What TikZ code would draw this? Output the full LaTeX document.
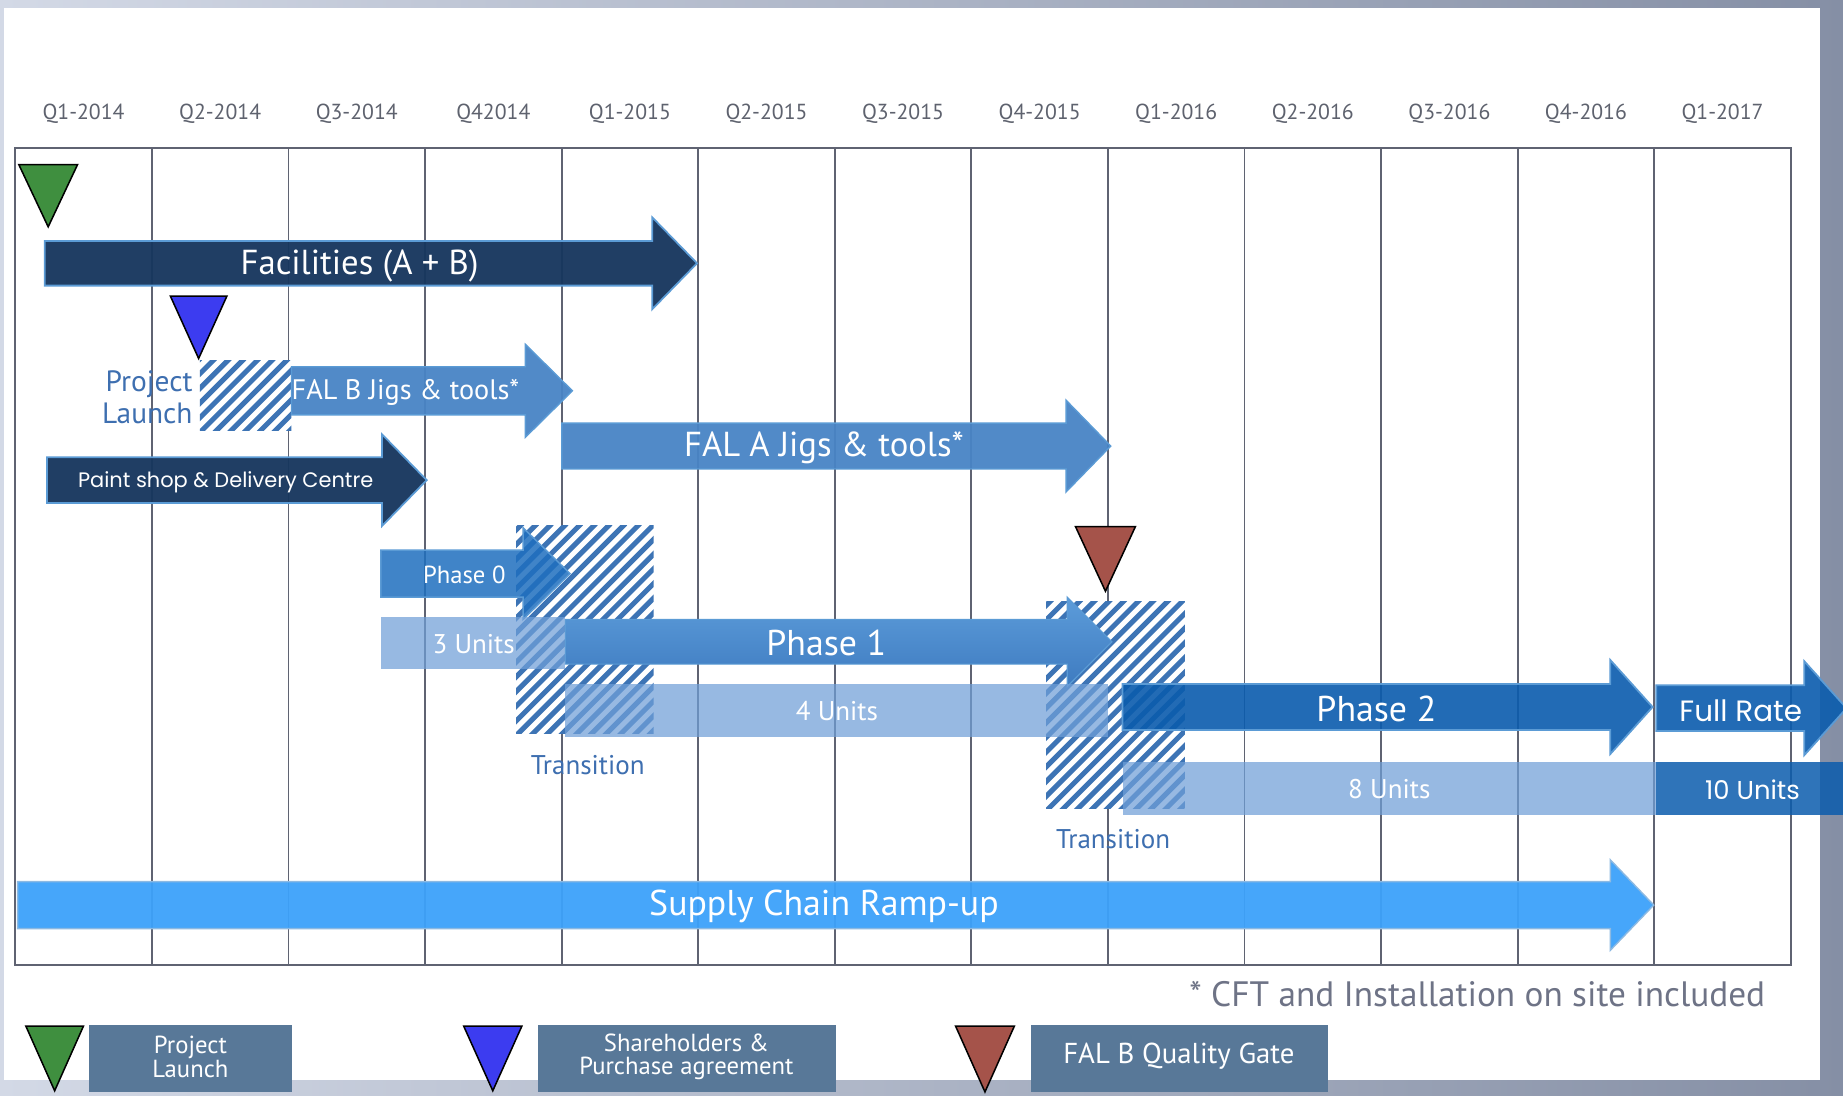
\documentclass[tikz,border=0pt]{standalone}
\usepackage{fontspec}
\setmainfont{PT Sans}
\newfontfamily\geo{Poppins}
\usetikzlibrary{calc}

\definecolor{gridc}{HTML}{5F6372}
\definecolor{qc}{HTML}{5E626E}
\definecolor{navy}{HTML}{17375E}
\definecolor{midblue}{HTML}{4884C6}
\definecolor{edgeblue}{HTML}{5B9BD5}
\definecolor{ph0}{HTML}{1F6FBF}
\definecolor{ph1top}{HTML}{5C9CDA}
\definecolor{ph1bot}{HTML}{3E7BC0}
\definecolor{ph2}{HTML}{0B5CAD}
\definecolor{supply}{HTML}{3DA2FA}
\definecolor{units}{HTML}{6F9FD8}
\definecolor{hatchc}{HTML}{3D74B5}
\definecolor{labblue}{HTML}{3E6FB0}
\definecolor{notec}{HTML}{6E7386}
\definecolor{legbox}{HTML}{587898}
\definecolor{bandL}{HTML}{D3D9E6}
\definecolor{bandR}{HTML}{858FA5}
\definecolor{mgreen}{HTML}{3F8F3F}
\definecolor{mblue}{HTML}{3C3CF0}
\definecolor{mred}{HTML}{A5534A}

% block arrow: style, tail x, head base x, tip x, centre y, half body, half head
\newcommand\blockarrow[7]{%
  \path[#1] (#2,#5-#6) -- (#3,#5-#6) -- (#3,#5-#7) -- (#4,#5)
    -- (#3,#5+#7) -- (#3,#5+#6) -- (#2,#5+#6) -- cycle;}
% striped transition box: x0, y0, x1, y1
\newcommand\stripebox[4]{%
  \begin{scope}
    \clip (#1,#2) rectangle (#3,#4);
    \fill[white] (#1,#2) rectangle (#3,#4);
    \foreach \k in {-22,...,22}
      \draw[hatchc, line width=4.3pt] ({#1+\k*12.5},#4+2) -- ({#1+\k*12.5+#4-#2+4},#2-2);
  \end{scope}}
% milestone marker: left x, top y, right x, tip y, colour
\newcommand\marker[5]{%
  \filldraw[fill=#5, draw=black, line width=1.3pt, line join=miter]
    (#1,#2) -- (#3,#2) -- ({(#1+#3)/2},#4) -- cycle;}

\tikzset{
  qlabel/.style={text=qc, font=\fontsize{18.5}{20}\selectfont, inner sep=0pt},
  wtext/.style={text=white, inner sep=0pt},
  big/.style={font=\fontsize{30.5}{32}\selectfont},
  bigger/.style={font=\fontsize{29.5}{32}\selectfont},
  mid/.style={font=\fontsize{23}{26}\selectfont},
  navybar/.style={fill=navy, fill opacity=0.96, draw=edgeblue, line width=1.5pt},
  midbar/.style={fill=midblue, fill opacity=0.95, draw=edgeblue, line width=1.2pt},
  ph0bar/.style={fill=ph0, fill opacity=0.85, draw=edgeblue, line width=1.2pt},
  ph1bar/.style={top color=ph1top, bottom color=ph1bot, draw=edgeblue, line width=1pt},
  ph2bar/.style={fill=ph2, fill opacity=0.9, draw=edgeblue, line width=1.5pt},
  supbar/.style={fill=supply, fill opacity=0.95, draw=edgeblue!70, line width=1.2pt},
  unitbox/.style={fill=units, fill opacity=0.72},
  unitdark/.style={fill=ph2, fill opacity=0.85},
  bluelab/.style={text=labblue, inner sep=0pt, font=\fontsize{23}{27}\selectfont},
  legend/.style={fill=legbox, inner sep=0pt},
  legtext/.style={text=white, inner sep=0pt, align=center, font=\fontsize{21}{20}\selectfont},
}

\begin{document}
\begin{tikzpicture}[x=1pt, y=-1pt]
  \useasboundingbox (0,0) rectangle (1568,932);
  \clip (0,0) rectangle (1568,932);

  % frame and page
  \shade[left color=bandL, right color=bandR] (0,0) rectangle (1568,932);
  \fill[white] (3,7) rectangle (1548,919);

  % quarter grid
  \foreach \i in {1,...,12}
    \draw[gridc, line width=1.6pt] ({13+116.2*\i},126) -- ({13+116.2*\i},821);
  \draw[gridc, line width=1.6pt] (13,126) rectangle (1524,821);

  % quarter headings
  \foreach \lab [count=\i from 0] in {Q1-2014,Q2-2014,Q3-2014,Q42014,Q1-2015,Q2-2015,Q3-2015,Q4-2015,Q1-2016,Q2-2016,Q3-2016,Q4-2016,Q1-2017}
    \node[qlabel] (q\i) at ({13+116.2*(\i+0.5)},97) {\lab};

  % facilities and tooling
  \marker{16}{140}{66}{193}{mgreen}
  \blockarrow{navybar}{38}{555}{593}{224}{19}{39}
  \node[wtext, bigger] (fac) at (306,226) {Facilities (A + B)};

  \marker{145}{252}{193}{305}{mblue}
  \node[bluelab, align=right, anchor=east, font=\fontsize{25}{27}\selectfont] (pl) at (164,338) {Project\\Launch};
  \stripebox{170}{307}{248}{366}
  \blockarrow{midbar}{248}{447}{487}{332.5}{20.5}{39.5}
  \node[wtext, anchor=west, font=\fontsize{24}{26}\selectfont] (falb) at (248,334) {FAL B Jigs \& tools*};

  \blockarrow{midbar}{478}{907}{945}{379.5}{19.5}{39}
  \node[wtext, bigger] (fala) at (701,381) {FAL A Jigs \& tools*};

  \blockarrow{navybar}{40}{325}{363}{408.5}{19.5}{39}
  \node[wtext, font=\geo\fontsize{17.8}{20}\selectfont] (paint) at (192,410) {Paint shop \& Delivery Centre};

  % first transition
  \stripebox{439}{447.5}{556}{624}
  \blockarrow{ph0bar}{324}{445}{485}{488}{20}{39}
  \node[wtext, font=\fontsize{21}{24}\selectfont] (p0) at (395,489) {Phase 0};
  \fill[unitbox] (324,525) rectangle (481,569);
  \node[wtext, mid] (u3) at (403,548) {3 Units};
  \node[bluelab] (tr1) at (500,651) {Transition};

  % second transition and quality gate
  \stripebox{890}{512}{1008}{688}
  \marker{915}{448}{966}{503}{mred}
  \blockarrow{ph1bar}{481}{908}{946}{546}{19}{38}
  \node[wtext, big] (p1) at (703,547) {Phase 1};
  \fill[unitbox] (481,582) rectangle (943,627);
  \node[wtext, mid] (u4) at (712,605) {4 Units};
  \node[bluelab] (tr2) at (947,714) {Transition};

  % production phases
  \blockarrow{ph2bar}{955}{1370}{1406}{601.5}{19.5}{40}
  \node[wtext, big] (p2) at (1171,603) {Phase 2};
  \blockarrow{ph2bar}{1409}{1535}{1571}{602.5}{19.5}{40}
  \node[wtext, font=\geo\fontsize{25}{28}\selectfont] (fr) at (1481,605) {Full Rate};
  \fill[unitbox] (955,648) rectangle (1409,693);
  \node[wtext, mid] (u8) at (1182,671) {8 Units};
  \fill[unitdark] (1409,648) rectangle (1570,693);
  \node[wtext, font=\geo\fontsize{22}{24}\selectfont] (u10) at (1491,672) {10 Units};

  % supply chain
  \blockarrow{supbar}{15}{1370}{1407}{770}{20}{38.5}
  \node[wtext, big] (sup) at (701,771) {Supply Chain Ramp-up};

  % footnote
  \node[text=notec, inner sep=0pt, anchor=east, font=\fontsize{30}{32}\selectfont] (note) at (1502,846) {* CFT and Installation on site included};

  % legend
  \marker{22}{873}{71}{928}{mgreen}
  \fill[legend] (76,872) rectangle (248.5,929);
  \node[legtext] (lg1) at (162,899) {Project\\Launch};
  \marker{394.5}{873}{444}{928}{mblue}
  \fill[legend] (458,872) rectangle (711.5,929);
  \node[legtext] (lg2) at (584,899) {Shareholders \&\\Purchase agreement};
  \marker{813}{873}{863}{929}{mred}
  \fill[legend] (877,872) rectangle (1130,929);
  \node[legtext, font=\fontsize{24.5}{26}\selectfont] (lg3) at (1003,899) {FAL B Quality Gate};
\end{tikzpicture}
\end{document}
